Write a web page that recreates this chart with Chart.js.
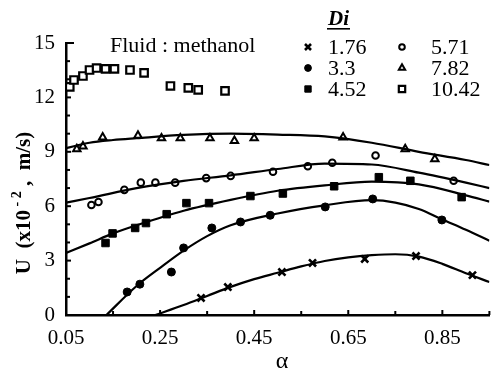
<!DOCTYPE html>
<html><head><meta charset="utf-8">
<script src="https://cdn.jsdelivr.net/npm/chart.js@4/dist/chart.umd.min.js"></script>
<style>html,body{margin:0;padding:0;background:#fff}</style>
</head><body>
<canvas id="c" width="497" height="373"></canvas>
<script>
// ---- data (α, U x10^-2 m/s) ----
const seriesLabels = ['1.76', '3.3', '4.52', '5.71', '7.82', '10.42'];
const xTickVals = [0.05, 0.25, 0.45, 0.65, 0.85];
const xMinorTicks = [0.15, 0.35, 0.55, 0.75, 0.95];
const yTickVals = [0, 3, 6, 9, 12, 15];
const yMinorTicks = [1, 2, 4, 5, 7, 8, 10, 11, 13, 14];

const pts176 = [[0.337,0.94],[0.394,1.54],[0.509,2.37],[0.574,2.87],[0.685,3.09],[0.794,3.25],[0.914,2.2]];
const pts33 = [[0.18,1.27],[0.207,1.7],[0.274,2.37],[0.30,3.7],[0.36,4.8],[0.421,5.13],[0.484,5.5],[0.601,5.96],[0.702,6.4],[0.849,5.24]];
const pts452 = [[0.134,3.97],[0.149,4.5],[0.197,4.8],[0.22,5.07],[0.264,5.56],[0.306,6.17],[0.354,6.17],[0.442,6.56],[0.511,6.7],[0.62,7.1],[0.715,7.6],[0.782,7.4],[0.891,6.5]];
const pts571 = [[0.104,6.07],[0.119,6.23],[0.174,6.9],[0.209,7.3],[0.24,7.3],[0.282,7.3],[0.348,7.55],[0.4,7.67],[0.49,7.9],[0.564,8.2],[0.616,8.4],[0.708,8.8],[0.874,7.4]];
const pts782 = [[0.073,9.15],[0.086,9.3],[0.128,9.8],[0.203,9.9],[0.253,9.75],[0.293,9.75],[0.356,9.75],[0.408,9.6],[0.45,9.75],[0.639,9.8],[0.771,9.15],[0.834,8.6]];
const pts1042 = [[0.058,12.58],[0.067,12.96],[0.086,13.18],[0.100,13.51],[0.115,13.62],[0.134,13.57],[0.153,13.57],[0.186,13.51],[0.216,13.35],[0.272,12.63],[0.31,12.52],[0.331,12.41],[0.388,12.36]];

// fitted curves
const fit176 = [[0.24,0],[0.3,0.55],[0.35,1.05],[0.4,1.55],[0.45,1.98],[0.5,2.33],[0.55,2.68],[0.6,2.98],[0.65,3.18],[0.7,3.3],[0.75,3.35],[0.8,3.22],[0.85,2.82],[0.9,2.3],[0.95,1.82]];
const fit33 = [[0.136,0],[0.2,1.6],[0.25,2.6],[0.3,3.55],[0.35,4.35],[0.4,4.95],[0.5,5.6],[0.6,6.05],[0.7,6.33],[0.75,6.2],[0.8,5.85],[0.85,5.27],[0.9,4.7],[0.95,4.1]];
const fit452 = [[0.05,3.42],[0.1,3.95],[0.15,4.5],[0.2,4.95],[0.3,5.75],[0.4,6.35],[0.5,6.85],[0.6,7.15],[0.7,7.35],[0.8,7.2],[0.9,6.6],[0.95,6.25]];
const fit571 = [[0.05,6.2],[0.1,6.45],[0.2,7.0],[0.3,7.4],[0.4,7.7],[0.5,8.05],[0.6,8.35],[0.7,8.3],[0.8,7.85],[0.9,7.3],[0.95,7.0]];
const fit782 = [[0.05,9.2],[0.1,9.5],[0.15,9.65],[0.2,9.75],[0.3,9.93],[0.4,10.0],[0.5,9.95],[0.6,9.85],[0.7,9.5],[0.8,9.0],[0.9,8.55],[0.95,8.27]];

const FONT = "'Liberation Serif', 'Times New Roman', serif";
const toXY = a => a.map(p => ({x: p[0], y: p[1]}));

const markerStyles = [
  {pointStyle: 'crossRot', radius: 5, borderWidth: 2.6, fill: '#000'},
  {pointStyle: 'circle', radius: 4, borderWidth: 1, fill: '#000'},
  {pointStyle: 'rect', radius: 5.3, borderWidth: 1, fill: '#000'},
  {pointStyle: 'circle', radius: 3.3, borderWidth: 2, fill: '#fff'},
  {pointStyle: 'triangle', radius: 4.3, borderWidth: 2, fill: '#fff'},
  {pointStyle: 'rect', radius: 5.3, borderWidth: 2.2, fill: '#fff'}
];
const pointSets = [pts176, pts33, pts452, pts571, pts782, pts1042];
const fitSets = [fit176, fit33, fit452, fit571, fit782];

const datasets = [];
fitSets.forEach(f => datasets.push({
  data: toXY(f), showLine: true, borderColor: '#000', borderWidth: 2.2,
  pointRadius: 0, cubicInterpolationMode: 'monotone', fill: false
}));
pointSets.forEach((p, i) => {
  const m = markerStyles[i];
  datasets.push({
    label: seriesLabels[i], data: toXY(p), showLine: false,
    pointStyle: m.pointStyle, pointRadius: m.radius, pointBorderWidth: m.borderWidth,
    pointBackgroundColor: m.fill, pointBorderColor: '#000', pointHoverRadius: m.radius
  });
});

const decor = {
  id: 'decor',
  afterDraw(chart) {
    const ctx = chart.ctx, xs = chart.scales.x, ys = chart.scales.y;
    const L = chart.chartArea.left, B = chart.chartArea.bottom;
    ctx.save();
    ctx.strokeStyle = '#000'; ctx.lineWidth = 2;
    yTickVals.forEach(v => { const y = ys.getPixelForValue(v); const len = v === 15 ? 8 : 5;
      ctx.beginPath(); ctx.moveTo(L, y); ctx.lineTo(L + len, y); ctx.stroke(); });
    yMinorTicks.forEach(v => { const y = ys.getPixelForValue(v);
      ctx.beginPath(); ctx.moveTo(L, y); ctx.lineTo(L + 4, y); ctx.stroke(); });
    xTickVals.forEach(v => { const x = xs.getPixelForValue(v);
      ctx.beginPath(); ctx.moveTo(x, B); ctx.lineTo(x, B - 5); ctx.stroke(); });
    xMinorTicks.forEach(v => { const x = xs.getPixelForValue(v);
      ctx.beginPath(); ctx.moveTo(x, B); ctx.lineTo(x, B - 4); ctx.stroke(); });

    ctx.fillStyle = '#000';
    ctx.font = '22px ' + FONT; ctx.textBaseline = 'alphabetic'; ctx.textAlign = 'left';
    ctx.fillText('Fluid : methanol', 110, 52);
    ctx.font = 'bold italic 21px ' + FONT;
    ctx.fillText('Di', 328, 25);
    const w = ctx.measureText('Di').width;
    ctx.fillRect(327, 28, w + 2, 1.6);
    ctx.font = '22px ' + FONT;
    const rows = [47, 68, 89];
    const cols = [{m: 308, t: 328}, {m: 402, t: 431}];
    seriesLabels.forEach((lab, i) => {
      const col = cols[Math.floor(i / 3)], ry = rows[i % 3], m = markerStyles[i];
      ctx.fillStyle = m.fill; ctx.strokeStyle = '#000'; ctx.lineWidth = m.borderWidth;
      Chart.helpers.drawPoint(ctx, {pointStyle: m.pointStyle, radius: m.radius * 0.85, rotation: 0, borderWidth: m.borderWidth}, col.m, ry);
      ctx.fillStyle = '#000'; ctx.textBaseline = 'middle';
      ctx.fillText(lab, col.t, ry + 1);
    });
    ctx.textAlign = 'center'; ctx.textBaseline = 'middle';
    ctx.font = '24px ' + FONT;
    ctx.fillText('\u03B1', 282, 362);
    ctx.translate(25, 203); ctx.rotate(-Math.PI / 2);
    const big = 'bold 21px ' + FONT, small = 'bold 14px ' + FONT;
    const parts = [['U  (x10', big, 0], [' - 2', small, -8], [' ,  m/s)', big, 0]];
    let total = 0;
    parts.forEach(p => { ctx.font = p[1]; total += ctx.measureText(p[0]).width; });
    let x0 = -total / 2;
    ctx.textAlign = 'left';
    parts.forEach(p => { ctx.font = p[1]; ctx.fillText(p[0], x0, p[2]); x0 += ctx.measureText(p[0]).width; });
    ctx.restore();
  }
};

new Chart(document.getElementById('c'), {
  type: 'scatter',
  data: {datasets},
  options: {
    responsive: false, devicePixelRatio: 1, animation: false,
    layout: {padding: {top: 43, right: 2, left: 0, bottom: 0}},
    plugins: {legend: {display: false}, tooltip: {enabled: false}},
    scales: {
      x: {
        type: 'linear', min: 0.05, max: 0.95,
        afterBuildTicks: s => { s.ticks = xTickVals.map(v => ({value: v})); },
        afterFit: s => { s.height = 58; },
        ticks: {callback: v => v.toFixed(2), font: {family: FONT, size: 21}, color: '#000', padding: 3, maxRotation: 0, autoSkip: false},
        grid: {display: false}, border: {display: true, color: '#000', width: 2.5}
      },
      y: {
        min: 0, max: 15,
        afterBuildTicks: s => { s.ticks = yTickVals.map(v => ({value: v})); },
        afterFit: s => { s.width = 66; },
        ticks: {callback: v => String(v), font: {family: FONT, size: 21}, color: '#000', padding: 3, autoSkip: false},
        grid: {display: false}, border: {display: true, color: '#000', width: 2.5}
      }
    }
  },
  plugins: [decor]
});
</script>
</body></html>
